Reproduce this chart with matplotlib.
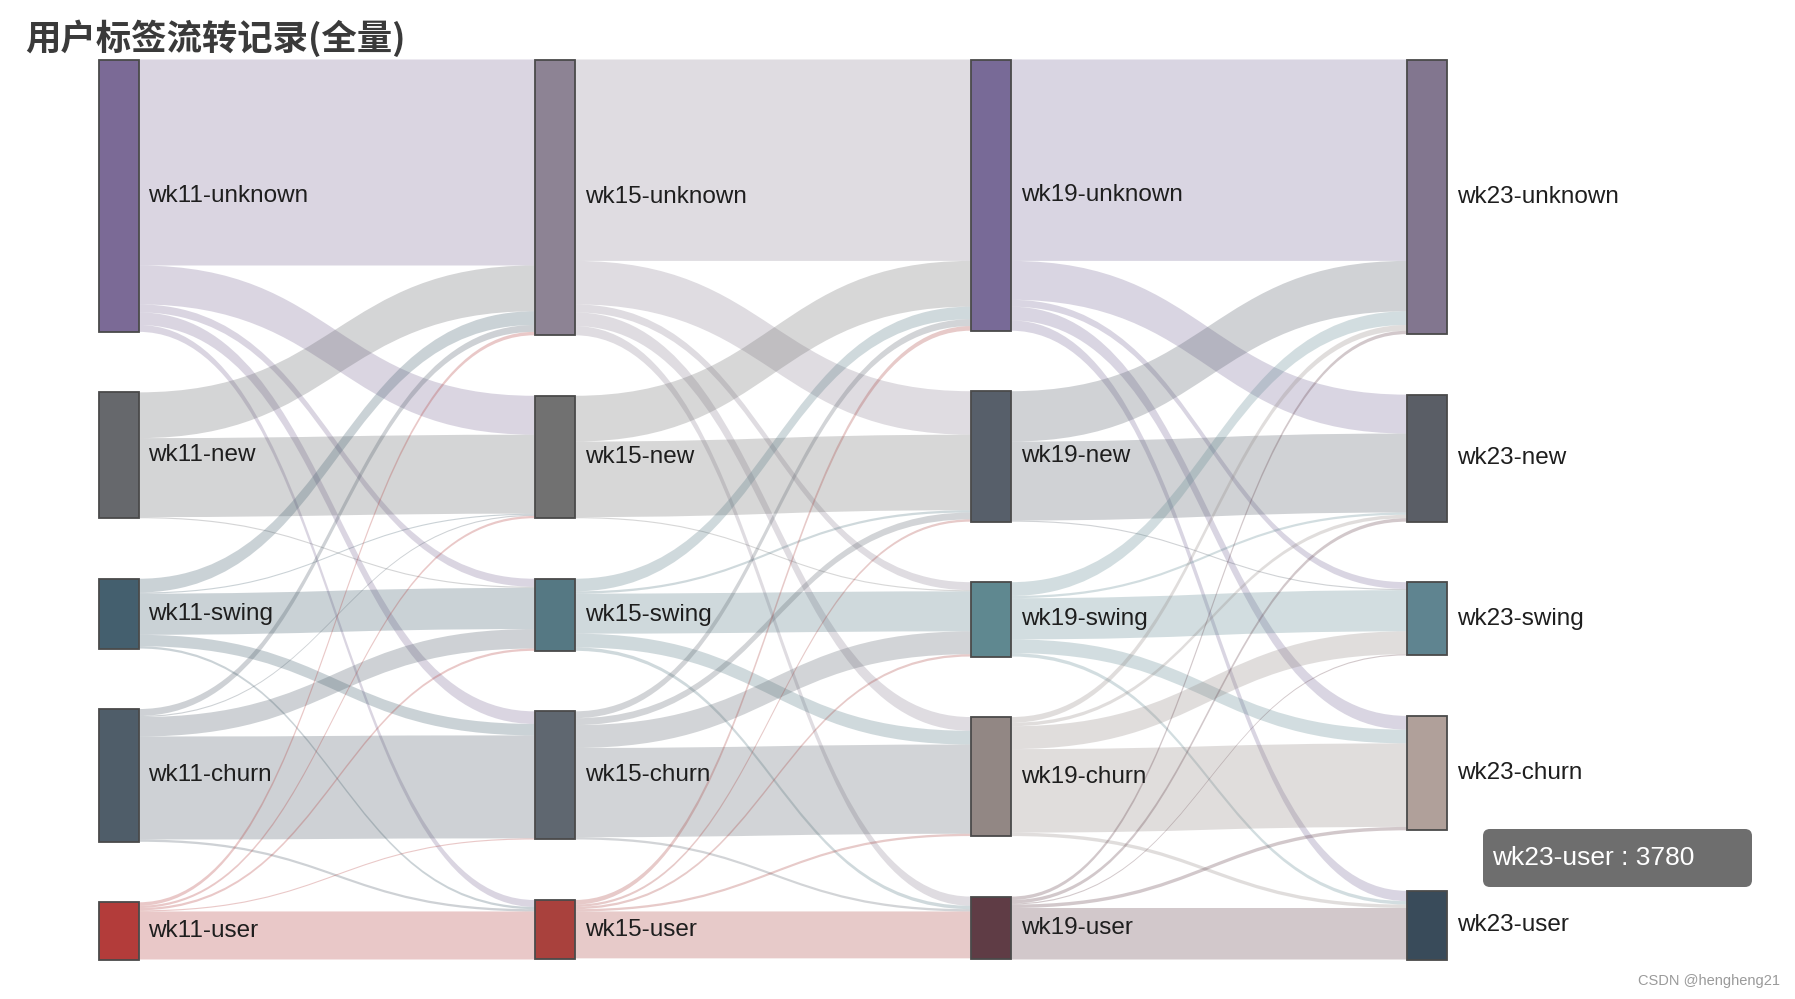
import matplotlib.pyplot as plt
from matplotlib.path import Path
from matplotlib.patches import PathPatch, Rectangle, FancyBboxPatch
import numpy as np

# 数据准备
stages = ["wk11", "wk15", "wk19", "wk23"]
categories = ["unknown", "new", "swing", "churn", "user"]
title = "用户标签流转记录(全量)"

# 流转矩阵: 行 = 上一期标签, 列 = 下一期标签 (顺序同 categories)
flow_wk11_wk15 = [
    [11340, 2142, 441, 693, 378],
    [2520, 4347, 63, 0, 0],
    [756, 63, 2268, 630, 126],
    [378, 63, 1071, 5670, 126],
    [189, 126, 126, 63, 2646],
]
flow_wk15_wk19 = [
    [11088, 2394, 441, 756, 504],
    [2520, 4158, 63, 0, 0],
    [693, 126, 2205, 756, 189],
    [378, 378, 1260, 4914, 126],
    [252, 126, 126, 126, 2583],
]
flow_wk19_wk23 = [
    [11088, 2142, 378, 756, 567],
    [2772, 4347, 63, 0, 0],
    [756, 126, 2268, 756, 189],
    [315, 189, 1260, 4599, 189],
    [189, 189, 63, 189, 2835],
]
flows = [flow_wk11_wk15, flow_wk15_wk19, flow_wk19_wk23]

# 节点颜色 (每期不同)
node_colors = [
    ["#7b6a96", "#66686c", "#445f6e", "#4f5d69", "#b33c3a"],
    ["#8d8394", "#717171", "#557883", "#5f6770", "#a9413d"],
    ["#786a97", "#575f6a", "#5f8890", "#928784", "#5f3c45"],
    ["#82768f", "#5a5e66", "#5f8490", "#b0a09a", "#394b5a"],
]

# 布局参数 (像素)
W, H = 1795, 999
top, bottom = 59.5, 959.5
node_w = 40
gap = 60.5
col_x = [98.5, 534.6, 970.8, 1407]
link_alpha = 0.28

# 计算节点值 = max(流入, 流出)
flows_np = [np.array(f, dtype=float) for f in flows]
node_vals = []
for i in range(len(stages)):
    out_v = flows_np[i].sum(axis=1) if i < len(flows_np) else np.zeros(len(categories))
    in_v = flows_np[i - 1].sum(axis=0) if i > 0 else np.zeros(len(categories))
    node_vals.append(np.maximum(in_v, out_v))

n = len(categories)
k = min((bottom - top - (n - 1) * gap) / v.sum() for v in node_vals)

# 节点纵向位置
node_y = []
for v in node_vals:
    ys = []
    y = top
    for val in v:
        ys.append(y)
        y += val * k + gap
    node_y.append(ys)

fig = plt.figure(figsize=(W / 100, H / 100), dpi=100)
ax = fig.add_axes([0, 0, 1, 1])
ax.set_xlim(0, W)
ax.set_ylim(H, 0)
ax.axis("off")

# 绘制连线
for i, f in enumerate(flows_np):
    x0 = col_x[i] + node_w
    x1 = col_x[i + 1]
    xm = (x0 + x1) / 2
    src_off = [0.0] * n
    # 目标端按来源顺序排列
    tgt_start = {}
    for t in range(n):
        acc = 0.0
        for s in range(n):
            tgt_start[(s, t)] = acc
            acc += f[s, t] * k
    for s in range(n):
        for t in range(n):
            val = f[s, t]
            if val <= 0:
                continue
            dy = val * k
            sy0 = node_y[i][s] + src_off[s]
            sy1 = sy0 + dy
            src_off[s] += dy
            ty0 = node_y[i + 1][t] + tgt_start[(s, t)]
            ty1 = ty0 + dy
            verts = [
                (x0, sy0), (xm, sy0), (xm, ty0), (x1, ty0),
                (x1, ty1),
                (xm, ty1), (xm, sy1), (x0, sy1),
                (x0, sy0),
            ]
            codes = [
                Path.MOVETO, Path.CURVE4, Path.CURVE4, Path.CURVE4,
                Path.LINETO,
                Path.CURVE4, Path.CURVE4, Path.CURVE4,
                Path.CLOSEPOLY,
            ]
            ax.add_patch(PathPatch(Path(verts, codes), facecolor=node_colors[i][s],
                                   edgecolor="none", alpha=link_alpha, zorder=1))

# 绘制节点和标签
for i, stage in enumerate(stages):
    for j, cat in enumerate(categories):
        y = node_y[i][j]
        h = node_vals[i][j] * k
        ax.add_patch(Rectangle((col_x[i], y), node_w, h, facecolor=node_colors[i][j],
                               edgecolor="#4a4a4a", linewidth=1.3, zorder=3))
        ax.text(col_x[i] + node_w + 10, y + h / 2, f"{stage}-{cat}", fontsize=17.5,
                family=["Liberation Sans", "DejaVu Sans"], color="#1e1e1e",
                va="center", ha="left", zorder=4)

# 标题
ax.text(25, 38, title, fontsize=25.5, family=["Noto Sans CJK SC", "DejaVu Sans"],
        color="#3a3a3a", va="center", ha="left", fontweight="bold")

# 悬浮提示框
tip_node = (len(stages) - 1, len(categories) - 1)
tip_val = int(round(node_vals[tip_node[0]][tip_node[1]]))
ax.add_patch(FancyBboxPatch((1483, 829), 269, 58, boxstyle="round,pad=0,rounding_size=7",
                            facecolor="#6e6e6e", edgecolor="none", zorder=5))
ax.text(1492, 858, f"{stages[tip_node[0]]}-{categories[tip_node[1]]} : {tip_val}",
        fontsize=19, family=["Liberation Sans", "DejaVu Sans"], color="white",
        va="center", ha="left", zorder=6)

# 水印
ax.text(1780, 981, "CSDN @hengheng21", fontsize=10.5, family=["Liberation Sans", "DejaVu Sans"],
        color="#9a9a9a", va="center", ha="right")

plt.savefig("out.png", dpi=100)
